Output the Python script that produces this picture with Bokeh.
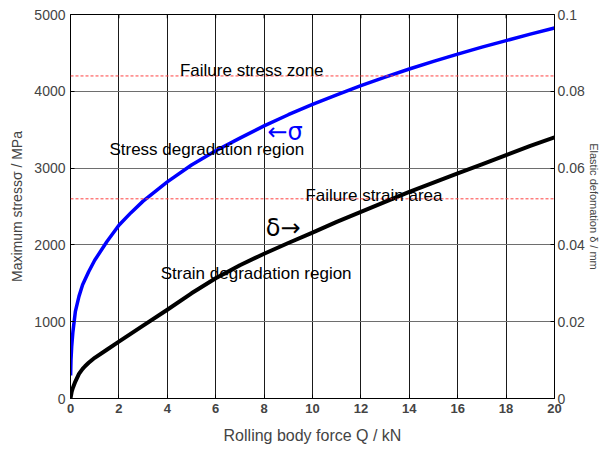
from bokeh.plotting import figure
from bokeh.models import LinearAxis, Range1d, Span, Label, FixedTicker
from bokeh.embed import file_html
from bokeh.resources import INLINE

# ---- data ----
force_stress = [0.005, 0.02, 0.05, 0.1, 0.2, 0.35, 0.5, 0.75, 1, 1.5, 2, 2.5, 3, 4, 5, 6, 7, 8, 9, 10,
                11, 12, 13, 14, 15, 16, 17, 18, 19, 20]
stress_mpa = [300, 500, 680, 870, 1130, 1330, 1480, 1650, 1800, 2040, 2255, 2420, 2570, 2820, 3040, 3225,
              3390, 3550, 3695, 3830, 3955, 4075, 4185, 4290, 4390, 4485, 4575, 4660, 4745, 4825]

force_deform = [0, 0.05, 0.1, 0.2, 0.35, 0.5, 0.6, 0.75, 0.9, 1, 1.5, 2, 2.5, 3, 4, 5, 6, 7, 8, 9, 10,
                11, 12, 13, 14, 15, 16, 17, 18, 19, 20]
deform_mm = [0, 0.0018, 0.0028, 0.0044, 0.0064, 0.0077, 0.0084, 0.0093, 0.0101, 0.0106, 0.0127, 0.0148,
             0.0169, 0.0190, 0.0231, 0.0274, 0.0313, 0.0347, 0.0377, 0.0405, 0.0432, 0.0460, 0.0486,
             0.0512, 0.0538, 0.0562, 0.0586, 0.0610, 0.0634, 0.0658, 0.0680]

failure_stress = 4200      # MPa (left axis)
failure_deform = 0.052     # mm (right axis)

x_ticks = [0, 2, 4, 6, 8, 10, 12, 14, 16, 18, 20]
y_ticks = [0, 1000, 2000, 3000, 4000, 5000]
r_ticks = [0, 0.02, 0.04, 0.06, 0.08, 0.1]
r_tick_labels = ["0", "0.02", "0.04", "0.06", "0.08", "0.1"]

FONT = "Liberation Sans"

p = figure(width=602, height=448, x_range=Range1d(0, 20), y_range=Range1d(0, 5000),
           output_backend="svg", toolbar_location=None,
           min_border_left=70, min_border_right=45, min_border_top=14, min_border_bottom=50)
p.extra_y_ranges = {"def": Range1d(0, 0.1)}

p.outline_line_color = "black"
p.outline_line_width = 1
p.background_fill_color = "white"

# grid
p.xgrid.ticker = FixedTicker(ticks=x_ticks)
p.ygrid.ticker = FixedTicker(ticks=y_ticks)
p.xgrid.grid_line_color = "#1a1a1a"
p.ygrid.grid_line_color = "#6e6e6e"
p.xgrid.grid_line_width = 1
p.ygrid.grid_line_width = 1

# bottom axis
xa = p.xaxis[0]
xa.ticker = FixedTicker(ticks=x_ticks)
xa.axis_label = "Rolling body force Q / kN"
xa.axis_label_text_font = FONT
xa.axis_label_text_font_style = "normal"
xa.axis_label_text_font_size = "16px"
xa.axis_label_standoff = 11
xa.major_label_text_font = FONT
xa.major_label_text_font_style = "bold"
xa.major_label_text_font_size = "13px"
xa.major_label_standoff = 5
xa.major_tick_in = 4
xa.major_tick_out = 0
xa.minor_tick_line_color = None
xa.axis_line_color = "black"
xa.major_tick_line_color = "black"

# left axis
ya = p.yaxis[0]
ya.ticker = FixedTicker(ticks=y_ticks)
ya.axis_label = "Maximum stressσ / MPa"
ya.axis_label_text_font = FONT
ya.axis_label_text_font_style = "normal"
ya.axis_label_text_font_size = "14px"
ya.axis_label_standoff = 6
ya.major_label_text_font = FONT
ya.major_label_text_font_size = "14px"
ya.major_label_standoff = 5
ya.major_tick_in = 4
ya.major_tick_out = 0
ya.minor_tick_line_color = None
ya.axis_line_color = "black"

# right axis
ra = LinearAxis(y_range_name="def", ticker=FixedTicker(ticks=r_ticks),
                major_label_overrides={t: s for t, s in zip(r_ticks, r_tick_labels)})
ra.axis_label = "Elastic defomation δ / mm"
ra.axis_label_text_font = FONT
ra.axis_label_text_font_style = "normal"
ra.axis_label_text_font_size = "11px"
ra.axis_label_standoff = 0
ra.major_label_text_font = FONT
ra.major_label_text_font_size = "14px"
ra.major_label_standoff = 3
ra.major_tick_in = 4
ra.major_tick_out = 0
ra.minor_tick_line_color = None
ra.axis_line_color = "black"
p.add_layout(ra, "right")

# top tick marks of the box (drawn from the x tick list)
top_y = [y_ticks[-1]] * len(x_ticks)
top_y1 = [y_ticks[-1] * 0.99] * len(x_ticks)
p.segment(x0=x_ticks, y0=top_y, x1=x_ticks, y1=top_y1, line_color="black", line_width=1)

# failure lines
p.add_layout(Span(location=failure_stress, dimension="width", line_color="#ff4040",
                  line_dash="3 2", line_width=1))
p.add_layout(Span(location=failure_deform, dimension="width", y_range_name="def",
                  line_color="#ff4040", line_dash="3 2", line_width=1))

# curves
p.line(force_stress, stress_mpa, line_color="#0000ff", line_width=3.5, line_join="round")
p.line(force_deform, deform_mm, y_range_name="def", line_color="black", line_width=4,
       line_join="round")

# annotations
def lab(x, y, text, size, color="black", font=FONT):
    p.add_layout(Label(x=x, y=y, text=text, text_font=font, text_font_size=size,
                       text_color=color, text_align="center", text_baseline="middle"))

lab(7.49, 4271, "Failure stress zone", "17px")
lab(5.63, 3238, "Stress degradation region", "17px")
lab(12.54, 2643, "Failure strain area", "17px")
lab(7.67, 1632, "Strain degradation region", "17px")
lab(8.87, 3470, "←σ", "24px", color="#0000ff", font="DejaVu Sans")
lab(8.79, 2215, "δ→", "24px", font="DejaVu Sans")

open("out.html", "w").write(file_html(p, INLINE))
